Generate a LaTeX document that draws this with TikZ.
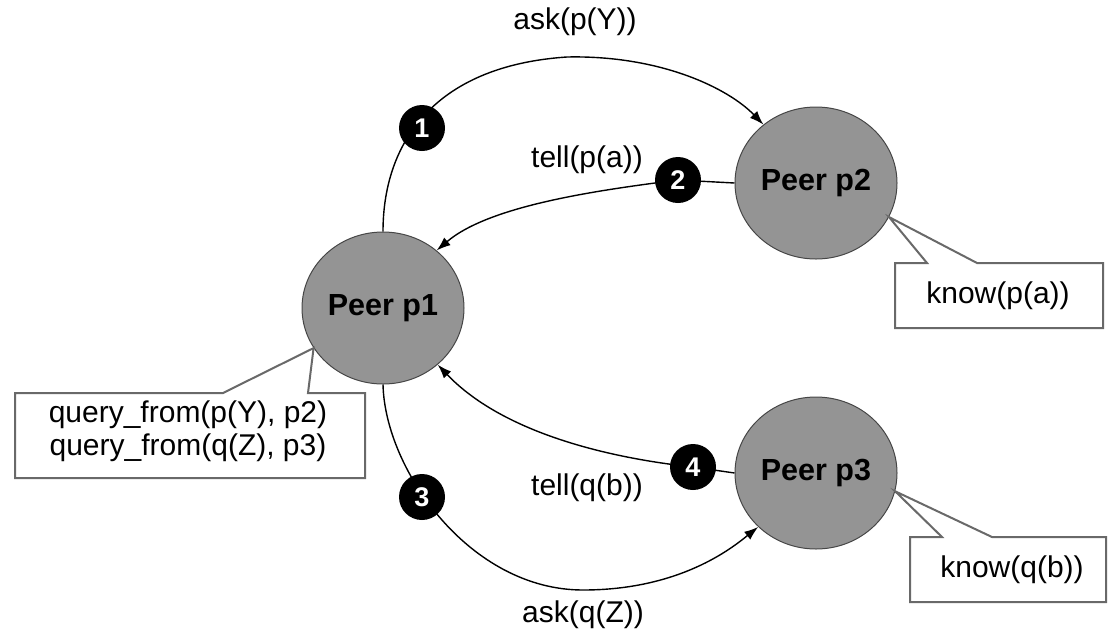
\documentclass[tikz,border=0pt]{standalone}
\usepackage{fontspec}
\setmainfont{Liberation Sans}
\usetikzlibrary{shapes.geometric,arrows.meta}
\definecolor{peerfill}{RGB}{148,148,148}
\definecolor{peerline}{RGB}{70,70,70}
\definecolor{boxline}{RGB}{105,105,105}
\tikzset{
  peer/.style={ellipse,draw=peerline,line width=1pt,fill=peerfill,minimum width=162pt,minimum height=152pt,inner sep=0pt,font=\fontsize{30.5}{33}\selectfont\bfseries},
  badge/.style={circle,fill=black,minimum size=46pt,inner sep=0pt,text=white,font=\fontsize{27}{30}\selectfont\bfseries},
  lbl/.style={inner sep=0pt,font=\fontsize{30}{33}\selectfont},
  flow/.style={line width=1.4pt,draw=black},
  tip/.style={-{Latex[length=14pt,width=10pt]}},
  callout/.style={draw=boxline,line width=2pt,fill=white,line join=miter},
}
\begin{document}
\begin{tikzpicture}[x=1pt,y=-1pt]
\useasboundingbox (0,0) rectangle (1109,633);
% peers
\node[peer] (p1) at (383,308) {Peer p1};
\node[peer] (p2) at (816,183) {Peer p2};
\node[peer] (p3) at (816,473) {Peer p3};
% badge positions
\coordinate (c1) at (422,128);
\coordinate (c2) at (678,180);
\coordinate (c3) at (422,497);
\coordinate (c4) at (693,467);
% connectors
\draw[flow,tip] (p1.north) .. controls (383,145) and (432,66) .. (567,57)
  .. controls (660,55) and (728,88) .. (p2.132);
\draw[flow,tip] (p2.west) -- (c2) .. controls (600,190) and (490,205) .. (p1.47);
\draw[flow,tip] (p1.south) .. controls (385,470) and (470,590) .. (583,590)
  .. controls (680,590) and (732,548) .. (p3.223);
\draw[flow,tip] (p3.west) -- (c4) .. controls (600,457) and (500,430) .. (p1.-46);
% badges
\node[badge] (b1) at (c1) {1};
\node[badge] (b2) at (c2) {2};
\node[badge] (b3) at (c3) {3};
\node[badge] (b4) at (c4) {4};
% labels
\node[lbl] (l1) at (575,22) {ask(p(Y))};
\node[lbl] (l2) at (587,160) {tell(p(a))};
\node[lbl] (l3) at (587,488) {tell(q(b))};
\node[lbl] (l4) at (583,615) {ask(q(Z))};
% callouts
\draw[callout] (15,393) -- (223,393) -- (p1.210) -- (308,393) -- (365,393) -- (365,478) -- (15,478) -- cycle;
\node[lbl,align=center] (k1) at (188,431) {query\_from(p(Y), p2)\\query\_from(q(Z), p3)};
\draw[callout] (895,263) -- (927,263) -- (p2.-25) -- (977,263) -- (1103,263) -- (1103,328) -- (895,328) -- cycle;
\node[lbl] (k2) at (998,296) {know(p(a))};
\draw[callout] (910,537) -- (942,537) -- (p3.-13) -- (992,537) -- (1106,537) -- (1106,602) -- (910,602) -- cycle;
\node[lbl] (k3) at (1012,570) {know(q(b))};
\end{tikzpicture}
\end{document}
